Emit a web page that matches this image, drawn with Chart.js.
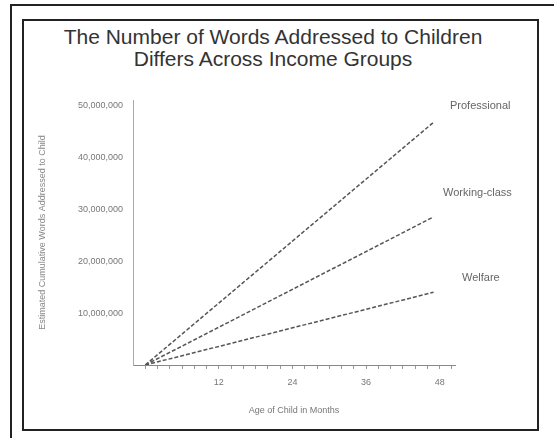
<!DOCTYPE html>
<html>
<head>
<meta charset="utf-8">
<script src="https://cdn.jsdelivr.net/npm/chart.js"></script>
<style>
  body { margin: 0; background: #fff; }
  #wrap { position: relative; width: 554px; height: 438px; overflow: hidden; font-family: 'Liberation Sans', Arial, sans-serif; }
  #outer { position: absolute; left: 10px; top: 4px; width: 560px; height: 450px; border-top: 2px solid #222; border-left: 2px solid #222; }
  #inner { position: absolute; left: 22px; top: 19px; width: 513px; height: 408px; border: 2px solid #222; }
  #title { position: absolute; left: 0; top: 26px; width: 546px; text-align: center; font-size: 21px; line-height: 22px; color: #333; }
  canvas { position: absolute; left: 0; top: 0; }
</style>
</head>
<body>
<div id="wrap">
  <div id="outer"></div>
  <div id="inner"></div>
  <div id="title">The Number of Words Addressed to Children<br>Differs Across Income Groups</div>
  <canvas id="c" width="554" height="438"></canvas>
</div>
<script>
// age in months, cumulative words addressed to child
const months = [0, 47];
const professional = [0, 46700000];
const workingClass = [0, 28500000];
const welfare = [0, 14000000];
const groupNames = ['Professional', 'Working-class', 'Welfare'];
const yTicks = [10000000, 20000000, 30000000, 40000000, 50000000];
const xTickLabels = [12, 24, 36, 48];

// where the group names sit, right of the line ends
const nameSpots = [[450, 106], [443, 193], [462, 278]];

const toPoints = vals => months.map((m, i) => ({ x: m, y: vals[i] }));

const lineStyle = {
  borderColor: '#555',
  borderWidth: 1.5,
  borderDash: [4, 2],
  pointRadius: 0,
  fill: false,
  tension: 0
};

const groupLabels = {
  id: 'groupLabels',
  afterDatasetsDraw(chart) {
    const ctx = chart.ctx;
    ctx.save();
    ctx.font = "11px 'Liberation Sans', Arial, sans-serif";
    ctx.fillStyle = '#666';
    ctx.textBaseline = 'middle';
    groupNames.forEach((name, i) => {
      ctx.fillText(name, nameSpots[i][0], nameSpots[i][1]);
    });
    ctx.restore();
  }
};

new Chart(document.getElementById('c'), {
  type: 'line',
  data: {
    datasets: [
      { label: groupNames[0], data: toPoints(professional), ...lineStyle },
      { label: groupNames[1], data: toPoints(workingClass), ...lineStyle },
      { label: groupNames[2], data: toPoints(welfare), ...lineStyle }
    ]
  },
  options: {
    responsive: false,
    animation: false,
    devicePixelRatio: 1,
    layout: { padding: { top: 100, left: 30, right: 99, bottom: 20 } },
    plugins: { legend: { display: false }, tooltip: { enabled: false } },
    scales: {
      x: {
        type: 'linear',
        min: -2,
        max: 50.5,
        afterFit: s => { s.height = 53; },
        afterBuildTicks: s => {
          const t = [];
          for (let m = 0; m <= 50; m += 2) t.push({ value: m });
          s.ticks = t;
        },
        ticks: {
          autoSkip: false,
          maxRotation: 0,
          padding: 8,
          color: '#777',
          font: { size: 9, family: "'Liberation Sans', Arial, sans-serif" },
          callback: v => xTickLabels.includes(v) ? String(v) : ''
        },
        grid: { drawOnChartArea: false, drawTicks: true, tickLength: 4, color: '#999' },
        border: { color: '#888', width: 1, dash: [6, 3] },
        title: {
          display: true,
          text: 'Age of Child in Months',
          color: '#777',
          font: { size: 9, family: "'Liberation Sans', Arial, sans-serif" },
          padding: { top: 0, bottom: 2 }
        }
      },
      y: {
        min: 0,
        max: 51000000,
        afterFit: s => { s.width = 103; },
        afterBuildTicks: s => { s.ticks = yTicks.map(v => ({ value: v })); },
        ticks: {
          padding: 2,
          color: '#777',
          font: { size: 9, family: "'Liberation Sans', Arial, sans-serif" },
          callback: v => v.toLocaleString('en-US')
        },
        grid: { display: false },
        border: { color: '#aaa', width: 1, dash: [2, 3] },
        title: {
          display: true,
          text: 'Estimated Cumulative Words Addressed to Child',
          color: '#888',
          font: { size: 9, family: "'Liberation Sans', Arial, sans-serif" },
          padding: { top: 7, bottom: 0 }
        }
      }
    }
  },
  plugins: [groupLabels]
});
</script>
</body>
</html>
